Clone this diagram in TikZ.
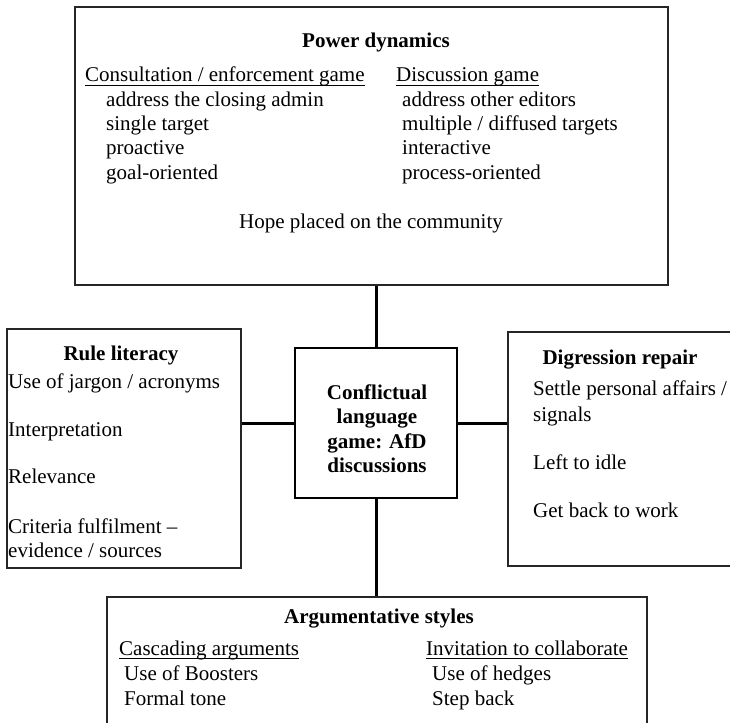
\documentclass[tikz,border=0pt]{standalone}
\usepackage{fontspec}
\setmainfont{Liberation Serif}
\begin{document}
\begin{tikzpicture}[x=1pt,y=-1pt,
  box/.style={draw=black!85, line width=1.6pt, inner sep=0, fill=none},
  cbox/.style={draw=black, line width=2.4pt, inner sep=0, fill=none},
  conn/.style={draw=black, line width=3pt},
  t/.style={inner sep=0, anchor=base west, font=\fontsize{21}{24}\selectfont},
  tc/.style={inner sep=0, anchor=base, font=\fontsize{21}{24}\selectfont},
  hd/.style={inner sep=0, anchor=base, font=\fontsize{21}{24}\selectfont\bfseries},
  ul/.style={line width=0.9pt}]
\useasboundingbox (0,0) rectangle (730,722);
\clip (0,0) rectangle (730,722);
% boxes
\node[box, minimum width=593pt, minimum height=278pt] (pd) at (371.5,146) {};
\node[box, minimum width=234pt, minimum height=239pt] (rl) at (124,448.5) {};
\node[cbox, minimum width=162pt, minimum height=150pt] (cg) at (376,423) {};
\node[box, minimum width=252pt, minimum height=234pt] (dr) at (634,449) {};
\node[box, minimum width=540pt, minimum height=163pt] (as) at (377,678.5) {};
% connectors
\draw[conn] (cg.north) -- (cg.north |- pd.south);
\draw[conn] (cg.west) -- (cg.west -| rl.east);
\draw[conn] (cg.east) -- (cg.east -| dr.west);
\draw[conn] (cg.south) -- (cg.south |- as.north);
% power dynamics
\node[hd] (pdt) at (376,48) {Power dynamics};
\node[t] (pdl) at (85,82) {Consultation / enforcement game};
\node[t] (pdr) at (396,82) {Discussion game};
\draw[ul] ([yshift=-3pt]pdl.base west) -- ([yshift=-3pt]pdl.base east);
\draw[ul] ([yshift=-3pt]pdr.base west) -- ([yshift=-3pt]pdr.base east);
\node[t] (pdl1) at (106,107) {address the closing admin};
\node[t] (pdl2) at (106,131) {single target};
\node[t] (pdl3) at (106,155) {proactive};
\node[t] (pdl4) at (106,179) {goal-oriented};
\node[t] (pdr1) at (402,107) {address other editors};
\node[t] (pdr2) at (402,131) {multiple / diffused targets};
\node[t] (pdr3) at (402,155) {interactive};
\node[t] (pdr4) at (402,179) {process-oriented};
\node[tc] (pdh) at (371,228) {Hope placed on the community};
% rule literacy
\node[hd] (rlt) at (121,360) {Rule literacy};
\node[t] (rl1) at (8,388) {Use of jargon / acronyms};
\node[t] (rl2) at (8,436) {Interpretation};
\node[t] (rl3) at (8,483) {Relevance};
\node[t] (rl4) at (8,533) {Criteria fulfilment –};
\node[t] (rl5) at (8,557) {evidence / sources};
% centre
\node[hd] (cg1) at (377,399) {Conflictual};
\node[hd] (cg2) at (377,423.5) {language};
\node[hd] (cg3) at (377,448) {game: AfD};
\node[hd] (cg4) at (377,472.5) {discussions};
% digression repair
\node[hd] (drt) at (620,364) {Digression repair};
\node[t] (dr1) at (533,395) {Settle personal affairs /};
\node[t] (dr2) at (533,421) {signals};
\node[t] (dr3) at (533,469) {Left to idle};
\node[t] (dr4) at (533,517) {Get back to work};
% argumentative styles
\node[hd] (ast) at (379,623) {Argumentative styles};
\node[t] (asl) at (119,655) {Cascading arguments};
\node[t] (asr) at (426,655) {Invitation to collaborate};
\draw[ul] ([yshift=-3pt]asl.base west) -- ([yshift=-3pt]asl.base east);
\draw[ul] ([yshift=-3pt]asr.base west) -- ([yshift=-3pt]asr.base east);
\node[t] (asl1) at (124,680) {Use of Boosters};
\node[t] (asl2) at (124,705) {Formal tone};
\node[t] (asr1) at (432,680) {Use of hedges};
\node[t] (asr2) at (432,705) {Step back};
\end{tikzpicture}
\end{document}
